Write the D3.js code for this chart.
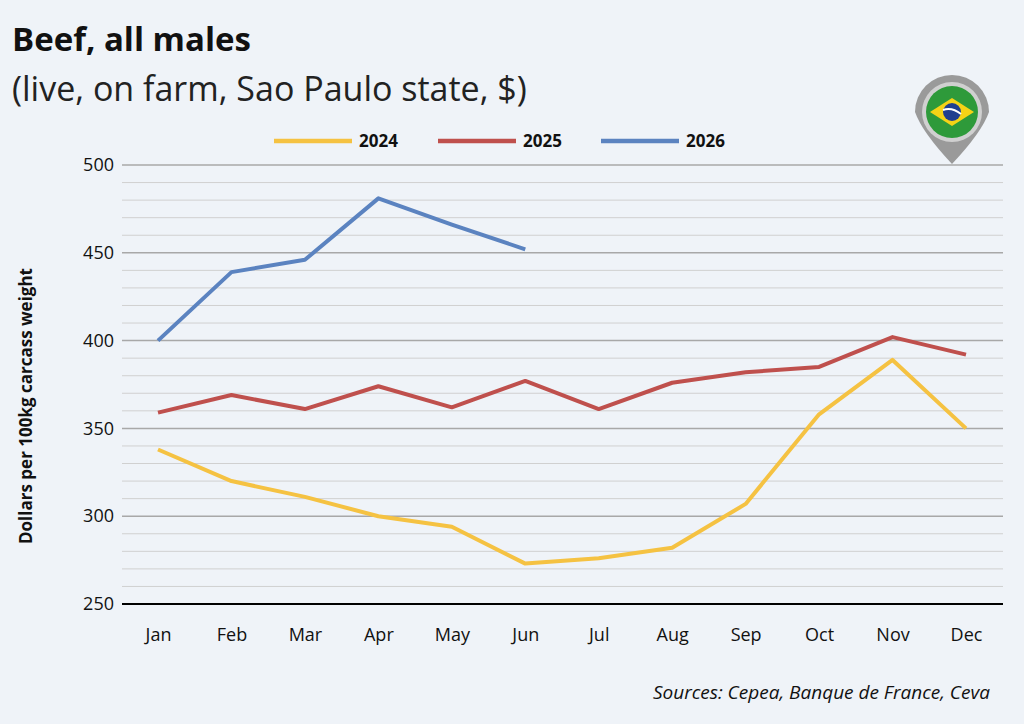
<!DOCTYPE html>
<html><head><meta charset="utf-8">
<script src="https://cdn.jsdelivr.net/npm/d3@7"></script>
<style>body{margin:0;background:#eff3f8;}svg{display:block;font-family:"Open Sans","Noto Sans",sans-serif;}</style>
</head><body><svg id="c" width="1024" height="724"></svg>
<script>
const months=["Jan","Feb","Mar","Apr","May","Jun","Jul","Aug","Sep","Oct","Nov","Dec"];
const yTicks=[250,300,350,400,450,500];
const s2024=[338,320,311,300,294,273,276,282,307,358,389,350];
const s2025=[359,369,361,374,362,377,361,376,382,385,402,392];
const s2026=[400,439,446,481,466,452];
const seriesNames=["2024","2025","2026"];
const colors=["#f5c242","#bf504d","#5b83c0"];
const svg=d3.select("#c");
svg.append("rect").attr("width",1024).attr("height",724).attr("fill","#eff3f8");
const x=d3.scalePoint().domain(months).range([158,966]);
const y=d3.scaleLinear().domain([250,500]).range([604,165]);
const L=122,R=1003;
d3.range(250,501,10).forEach(v=>{
  svg.append("line").attr("x1",L).attr("x2",R).attr("y1",y(v)).attr("y2",y(v))
   .attr("stroke",v%50===0?"#a8a8a8":"#d0d0d0").attr("stroke-width",v%50===0?1.5:1);
});
svg.append("line").attr("x1",L).attr("x2",R).attr("y1",y(250)).attr("y2",y(250)).attr("stroke","#000").attr("stroke-width",2);
const ya=svg.append("g").attr("transform",`translate(${L},0)`).call(d3.axisLeft(y).tickValues(yTicks).tickSize(0).tickPadding(10));
ya.select(".domain").remove();
ya.selectAll("text").attr("font-size",18).attr("fill","#111").attr("font-family","'Open Sans',sans-serif").attr("x",-8).attr("text-anchor","end");
const xa=svg.append("g").attr("transform",`translate(0,${y(250)})`).call(d3.axisBottom(x).tickSize(0).tickPadding(24));
xa.select(".domain").remove();
xa.selectAll("text").attr("font-size",18).attr("fill","#111").attr("font-family","'Open Sans',sans-serif");
const line=d3.line().x((d,i)=>x(months[i])).y(d=>y(d));
[s2024,s2025,s2026].forEach((s,i)=>svg.append("path").datum(s).attr("d",line).attr("fill","none").attr("stroke",colors[i]).attr("stroke-width",4).attr("stroke-linejoin","round"));
const lx=[274,438,601];
seriesNames.forEach((n,i)=>{
  svg.append("line").attr("x1",lx[i]).attr("x2",lx[i]+78).attr("y1",141).attr("y2",141).attr("stroke",colors[i]).attr("stroke-width",4.5);
  svg.append("text").attr("x",lx[i]+85).attr("y",147).attr("font-size",17).attr("font-weight","bold").attr("fill","#111").text(n);
});
svg.append("text").attr("x",12).attr("y",51).attr("font-size",33).attr("font-weight","bold").attr("fill","#111").text("Beef, all males");
svg.append("text").attr("x",12).attr("y",101).attr("font-size",34).attr("fill","#222").text("(live, on farm, Sao Paulo state, $)");
svg.append("text").attr("transform","translate(32,406) rotate(-90)").attr("text-anchor","middle").attr("font-size",17).attr("font-weight","bold").attr("fill","#111").text("Dollars per 100kg carcass weight");
svg.append("text").attr("x",990).attr("y",699).attr("text-anchor","end").attr("font-size",19).attr("font-style","italic").attr("fill","#111").text("Sources: Cepea, Banque de France, Ceva");
const f=svg.append("g").attr("transform","translate(952,112)");
f.append("path").attr("d","M-37,0 A37,37 0 1 1 37,0 Q30,20 0,52 Q-30,20 -37,0Z").attr("fill","#9a9a9a");
f.append("circle").attr("r",30).attr("fill","#d0d0d0");
f.append("circle").attr("r",26).attr("fill","#2e9a3a");
f.append("path").attr("d","M-22,0 L0,-14 L22,0 L0,14Z").attr("fill","#f5d316");
f.append("circle").attr("r",9).attr("fill","#1f3f8f");
f.append("path").attr("d","M-9,-2 Q0,-5 9,2").attr("stroke","#fff").attr("stroke-width",2).attr("fill","none");
</script></body></html>
